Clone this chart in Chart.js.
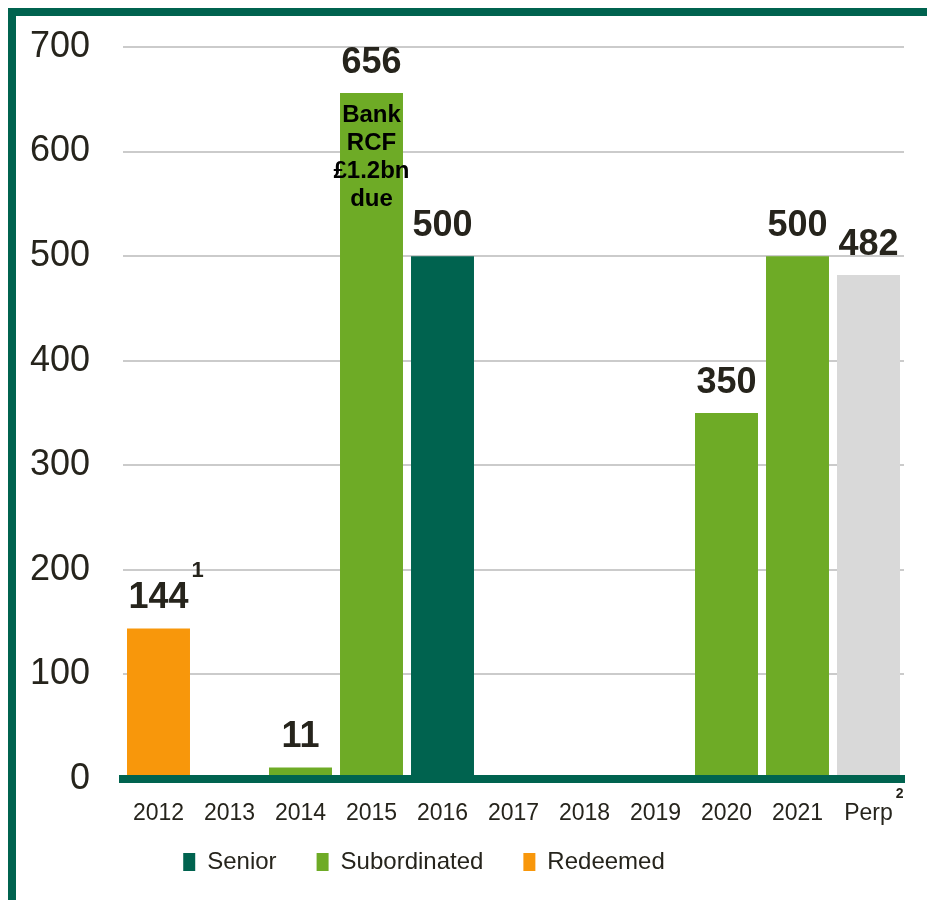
<!DOCTYPE html>
<html>
<head>
<meta charset="utf-8">
<title>Debt maturity profile</title>
<script src="https://cdn.jsdelivr.net/npm/chart.js@4"></script>
<style>
html, body { margin: 0; padding: 0; background: #fff; }
#wrap { position: relative; width: 927px; height: 900px; overflow: hidden; }
#frame { position: absolute; left: 8px; top: 8px; right: -20px; bottom: -20px;
         border-top: 8px solid #00634f; border-left: 8px solid #00634f; }
#myChart { position: absolute; left: 0; top: 0; }
</style>
</head>
<body>
<div id="wrap">
  <div id="frame"></div>
  <canvas id="myChart" width="927" height="900"></canvas>
</div>
<script>
const categories = ['2012', '2013', '2014', '2015', '2016', '2017', '2018', '2019', '2020', '2021', 'Perp'];
const senior       = [null, null, null, null, 500, null, null, null, null, null, null];
const subordinated = [null, null, 11, 656, null, null, null, null, 350, 500, null];
const redeemed     = [144, null, null, null, null, null, null, null, null, null, null];
const perpetual    = [null, null, null, null, null, null, null, null, null, null, 482];
const yTicks = [0, 100, 200, 300, 400, 500, 600, 700];
const valueNotes = ['1', null, null, null, null, null, null, null, null, null, null];
const tickNotes = [null, null, null, null, null, null, null, null, null, null, '2'];
const barNote = ['Bank', 'RCF', '£1.2bn', 'due'];
const barNoteCategory = '2015';

const textColor = '#26241c';
const FONT = "'Liberation Sans', Arial, sans-serif";
Chart.defaults.font.family = FONT;
Chart.defaults.color = textColor;

// value labels above bars, notes inside and superscripts
const labelsPlugin = {
    id: 'labels',
    afterDatasetsDraw(chart) {
        const ctx = chart.ctx;
        ctx.save();
        ctx.textBaseline = 'alphabetic';
        chart.data.datasets.forEach(function (ds, di) {
            const meta = chart.getDatasetMeta(di);
            meta.data.forEach(function (bar, i) {
                const v = ds.data[i];
                if (v === null || v === undefined) return;
                ctx.font = "bold 36px " + FONT;
                ctx.fillStyle = textColor;
                ctx.textAlign = 'center';
                const txt = String(v);
                ctx.fillText(txt, bar.x, bar.y - 20);
                if (valueNotes[i]) {
                    const w = ctx.measureText(txt).width;
                    ctx.font = "bold 22px " + FONT;
                    ctx.textAlign = 'left';
                    ctx.fillText(valueNotes[i], bar.x + w / 2 + 3, bar.y - 51);
                }
                if (categories[i] === barNoteCategory) {
                    ctx.font = "bold 24px " + FONT;
                    ctx.fillStyle = '#000';
                    ctx.textAlign = 'center';
                    barNote.forEach(function (line, k) {
                        ctx.fillText(line, bar.x, bar.y + 29 + k * 28);
                    });
                }
            });
        });
        // superscripts on tick labels
        const xs = chart.scales.x;
        tickNotes.forEach(function (n, i) {
            if (!n) return;
            ctx.font = "23px " + FONT;
            const w = ctx.measureText(categories[i]).width;
            ctx.font = "bold 14px " + FONT;
            ctx.fillStyle = textColor;
            ctx.textAlign = 'left';
            ctx.fillText(n, xs.getPixelForValue(i) + w / 2 + 3, xs.top + 19);
        });
        ctx.restore();
    }
};

// move legend left and up like the original
const legendShift = {
    id: 'legendShift',
    afterLayout(chart) {
        chart.legend.left -= 28;
        chart.legend.right -= 28;
        chart.legend.top -= 15;
        chart.legend.bottom -= 15;
    }
};

const ctx = document.querySelector('#myChart').getContext('2d');
const myChart = new Chart(ctx, {
    type: 'bar',
    data: {
        labels: categories,
        datasets: [{
            label: 'Senior',
            data: senior,
            backgroundColor: '#00634f'
        }, {
            label: 'Subordinated',
            data: subordinated,
            backgroundColor: '#6eab26'
        }, {
            label: 'Redeemed',
            data: redeemed,
            backgroundColor: '#f8970b'
        }, {
            label: 'Perpetual',
            data: perpetual,
            backgroundColor: '#d9d9d9'
        }]
    },
    options: {
        responsive: false,
        animation: false,
        datasets: {
            bar: {
                barPercentage: 0.887,
                categoryPercentage: 1,
                borderWidth: 0
            }
        },
        layout: {
            padding: { top: 47, right: 23, bottom: 1, left: 0 }
        },
        plugins: {
            tooltip: { enabled: false },
            legend: {
                position: 'bottom',
                labels: {
                    boxWidth: 12,
                    boxHeight: 18,
                    padding: 40,
                    color: textColor,
                    font: { size: 24 },
                    filter: function (item) { return item.datasetIndex < 3; }
                }
            }
        },
        scales: {
            x: {
                stacked: true,
                grid: { display: false },
                border: { color: '#00634f', width: 8, z: 1 },
                ticks: { font: { size: 23 }, color: textColor, padding: 13, maxRotation: 0 },
                afterFit: function (s) { s.height = 46; }
            },
            y: {
                stacked: true,
                min: 0,
                max: 700,
                afterBuildTicks: function (s) { s.ticks = yTicks.map(function (v) { return { value: v }; }); },
                grid: { color: '#cbcbcb', lineWidth: 2, drawTicks: false },
                border: { display: false },
                ticks: { font: { size: 36 }, color: textColor, padding: 33 },
                afterFit: function (s) {
                    s.width = 123;
                    s.paddingTop = 0;
                    s.paddingBottom = 0;
                }
            }
        }
    },
    plugins: [labelsPlugin, legendShift]
});
</script>
</body>
</html>
